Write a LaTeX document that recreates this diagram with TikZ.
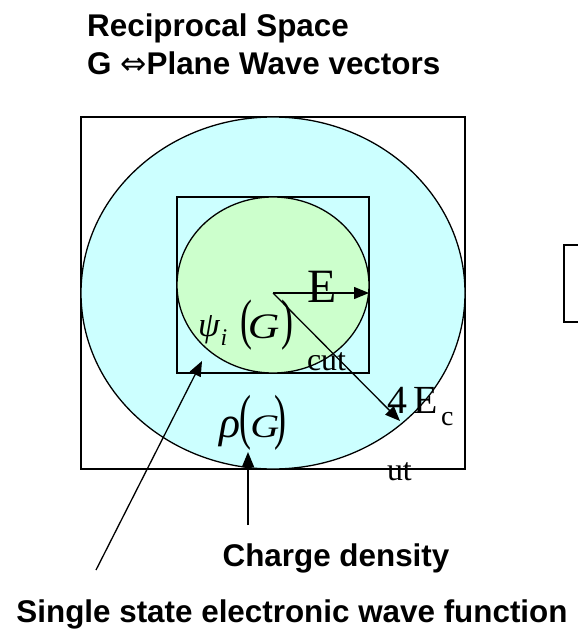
\documentclass[tikz,border=0pt]{standalone}
\usepackage{fontspec}
\setmainfont{Liberation Serif}
\setsansfont{Liberation Sans}
\newfontfamily\symfont{DejaVu Sans}
\usetikzlibrary{arrows.meta}
\definecolor{cyanfill}{RGB}{204,255,255}
\definecolor{greenfill}{RGB}{204,255,204}
\tikzset{
  box/.style={draw=black, line width=1.3bp},
  lbl/.style={font=\sffamily\bfseries\fontsize{31.5}{36}\selectfont, inner sep=0pt},
  mth/.style={inner sep=0pt, outer sep=0pt},
  arr/.style={line width=1.3bp, -{Triangle[length=15bp,width=12bp]}},
}
\newcommand{\tallparen}[2]{\scalebox{1}[#1]{#2}}
\begin{document}
\begin{tikzpicture}[x=1bp,y=-1bp]
\useasboundingbox (0,0) rectangle (578,632);
% titles
\node[lbl, anchor=base west] (t1) at (87,37) {Reciprocal Space};
\node[lbl, anchor=base west] (t2) at (87,75) {G {\symfont\mdseries ⇔}Plane Wave vectors};
% outer square and ellipse
\draw[box] (81,117) rectangle (465,469);
\draw[box, fill=cyanfill] (273,293) ellipse [x radius=192, y radius=176];
% inner square and ellipse
\draw[box] (177,197) rectangle (369,373);
\draw[box, fill=greenfill] (273,285) ellipse [x radius=96, y radius=88];
% right partial box
\draw[box] (580,245) -- (564,245) -- (564,322) -- (580,322);
% centre coordinates
\coordinate (c) at (273,293);
\coordinate (eend) at (369,293);
\coordinate (fend) at (400,421);
% texts
\node[mth, anchor=base west, font=\fontsize{48}{48}\selectfont] (E1) at (307,302) {E};
\node[mth, anchor=base west, font=\fontsize{32}{32}\selectfont] (cut) at (307,370) {cut};
\node[mth, anchor=base west, font=\fontsize{40}{40}\selectfont] (E4) at (387,413) {4\kern7bp E};
\node[mth, anchor=base west, font=\fontsize{28}{28}\selectfont] (Ec) at (441,425) {c};
\node[mth, anchor=base west, font=\fontsize{32}{32}\selectfont] (ut) at (387,480) {ut};
% psi_i(G)
\node[mth, anchor=base west, font=\itshape\fontsize{35}{35}\selectfont] (psi) at (198,336)
  {ψ\kern1bp\raisebox{-9bp}{\fontsize{24}{24}\selectfont i}};
\node[mth, anchor=base west, font=\fontsize{36}{36}\selectfont] (G1) at (240,338)
  {\tallparen{1.55}{(}\kern-4bp\scalebox{1.22}[1]{\itshape G}\kern2bp\tallparen{1.55}{)}};
% rho(G)
\node[mth, anchor=base west, font=\fontsize{33}{33}\selectfont] (G2) at (219,437)
  {{\itshape\fontsize{44}{44}\selectfont ρ}\kern-0.5bp{\fontsize{36}{36}\selectfont\tallparen{1.7}{(}}\kern-1bp\scalebox{1.22}[1]{\itshape G}\kern-5bp{\fontsize{36}{36}\selectfont\tallparen{1.7}{)}}};
% radius arrows
\draw[arr] (c) -- (eend);
\draw[arr] (c) -- (fend);
% labels and pointer arrows
\node[lbl, anchor=base] (cd) at (336,566) {Charge density};
\node[lbl, anchor=base] (ss) at (292,622) {Single state electronic wave function};
\coordinate (rhotail) at (248,525);
\coordinate (rhotip) at (248,452);
\coordinate (psitail) at (96,570);
\coordinate (psitip) at (202,361);
\draw[arr] (rhotail) -- (rhotip);
\draw[arr] (psitail) -- (psitip);
\end{tikzpicture}
\end{document}
